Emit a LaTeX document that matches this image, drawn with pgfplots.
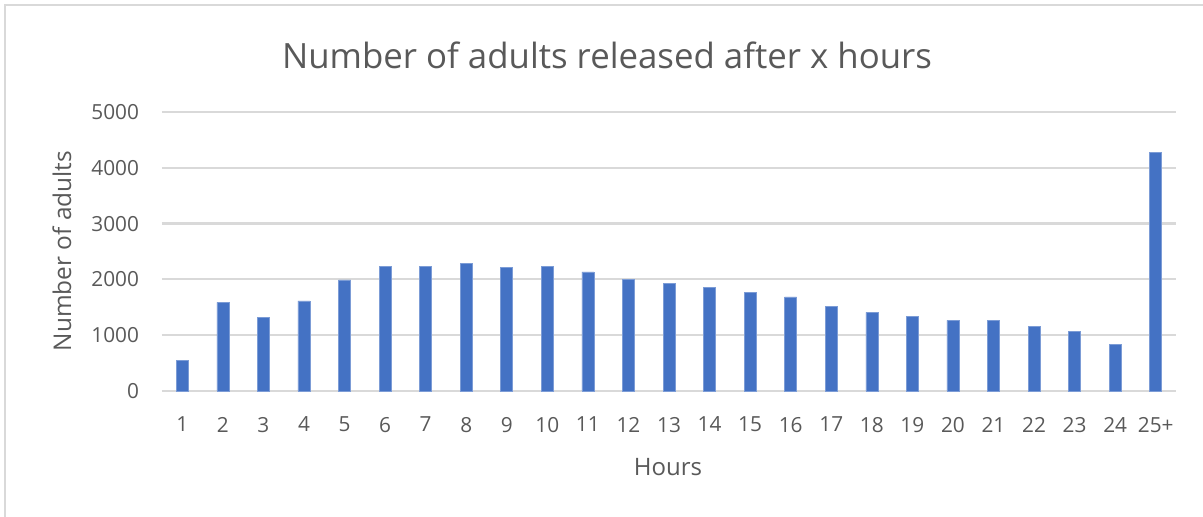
\documentclass[border=0pt]{standalone}
\usepackage{fontspec}
\setmainfont{Open Sans}
\usepackage{pgfplots}
\pgfplotsset{compat=1.18}
\definecolor{barblue}{HTML}{4472C4}
\definecolor{gridgray}{HTML}{D9D9D9}
\definecolor{txtgray}{HTML}{595959}
\begin{document}
\begin{tikzpicture}
\path[use as bounding box] (0pt,0pt) rectangle (601.5pt,258.5pt);
\draw[gridgray,line width=1pt] (2.5pt,0pt) -- (2.5pt,256pt) -- (601.5pt,256pt);
\node[txtgray,font=\fontsize{17.4}{20}\selectfont] at (303.5pt,231pt) {Number of adults released after x hours};
\begin{axis}[
  at={(81pt,63pt)}, anchor=south west,
  scale only axis, width=507pt, height=139.5pt,
  xmin=0.5, xmax=25.5, ymin=0, ymax=5000,
  axis line style={draw=none},
  ymajorgrids, grid style={gridgray,line width=1.1pt},
  ytick={0,1000,...,5000},
  xtick={1,...,25},
  xticklabels={1,2,3,4,5,6,7,8,9,10,11,12,13,14,15,16,17,18,19,20,21,22,23,24,25+},
  major tick length=0pt,
  xtick pos=bottom, ytick pos=left,
  tick label style={txtgray,font=\fontsize{10.4}{12}\selectfont},
  /pgf/number format/assume math mode=true,
  /pgf/number format/1000 sep={},
  yticklabel style={xshift=-8pt},
  xticklabel style={yshift=-9.5pt},
  ybar, bar width=6pt,
  clip=false,
]
\addplot[fill=barblue,draw=barblue!70!white,line width=0.3pt] coordinates {
(1,545) (2,1590) (3,1314) (4,1613) (5,1990) (6,2235) (7,2235) (8,2288)
(9,2210) (10,2235) (11,2133) (12,2007) (13,1935) (14,1858) (15,1762)
(16,1685) (17,1511) (18,1410) (19,1338) (20,1267) (21,1267) (22,1159)
(23,1063) (24,836) (25,4278)
};
\end{axis}
\node[txtgray,font=\fontsize{12.2}{14}\selectfont,rotate=90] at (31pt,133pt) {Number of adults};
\node[txtgray,font=\fontsize{12}{14}\selectfont] at (334pt,25pt) {Hours};
\end{tikzpicture}
\end{document}
